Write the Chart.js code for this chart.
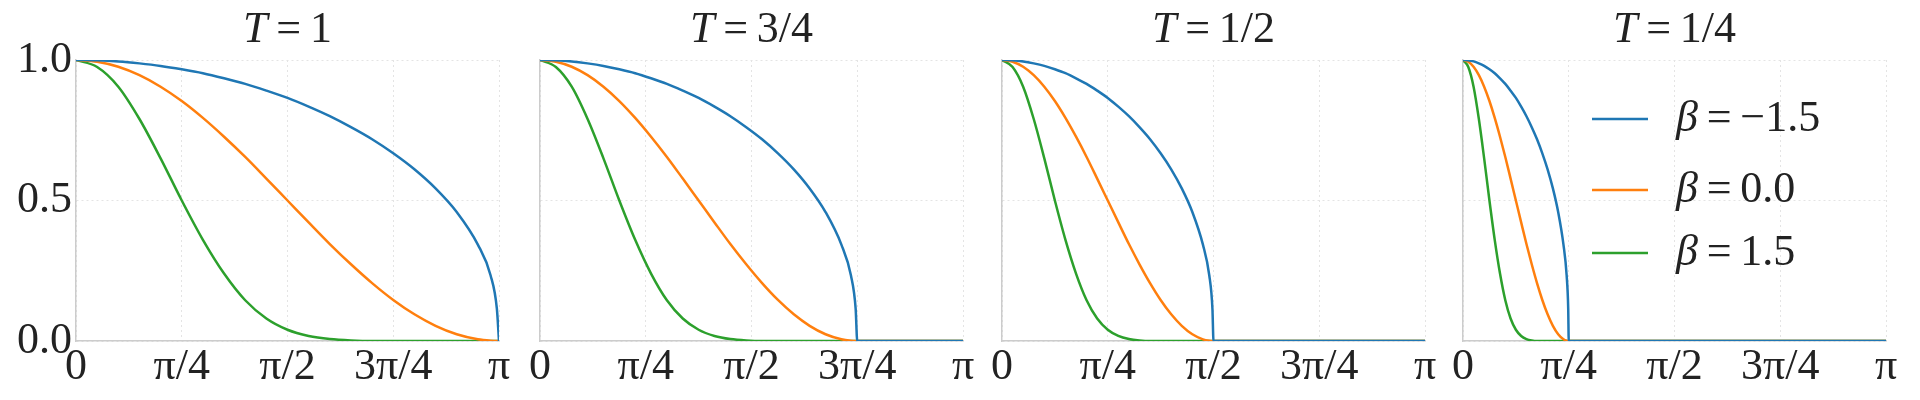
<!DOCTYPE html><html><head><meta charset="utf-8">
<script src="https://cdn.jsdelivr.net/npm/chart.js@4"></script>
<style>body{margin:0;width:1920px;height:400px;background:#fff;position:relative;overflow:hidden}canvas{position:absolute;top:0}</style>
</head><body>
<script>
const temperatures = [1, 0.75, 0.5, 0.25];
const titles = ["T = 1", "T = 3/4", "T = 1/2", "T = 1/4"];
const betaLabels = ["β = −1.5", "β = 0.0", "β = 1.5"];
const colors = ["#1f77b4", "#ff7f0e", "#2ca02c"];
// fraction of support (x / (T·π))
const uGrid = [0,0.05,0.1,0.15,0.2,0.25,0.3,0.35,0.4,0.45,0.5,0.55,0.6,0.65,0.7,0.75,0.8,0.85,0.9,0.95,0.98,0.995,1];
const blueVals = [1,0.999,0.995,0.988,0.979,0.967,0.953,0.935,0.915,0.891,0.865,0.834,0.800,0.761,0.718,0.668,0.611,0.543,0.459,0.343,0.234,0.114,0];
const orangeVals = [1,0.994,0.976,0.946,0.905,0.854,0.794,0.727,0.655,0.578,0.5,0.422,0.345,0.273,0.206,0.146,0.095,0.054,0.024,0.006,0.001,0,0];
const greenVals = [1,0.975,0.905,0.79,0.65,0.50,0.36,0.24,0.145,0.08,0.04,0.018,0.007,0.002,0,0,0,0,0,0,0,0,0];
const seriesVals = [blueVals, orangeVals, greenVals];
const xTickLabels = ["0","π/4","π/2","3π/4","π"];
const yTicks = [0, 0.5, 1];

const plotLefts = [76, 540, 1002, 1463];
const plotW = 423, leftPad = 76, rightPad = 30;
const FONT = "'Liberation Serif', 'DejaVu Serif', serif";
const FS = 44;

temperatures.forEach((T, p) => {
  const c = document.createElement('canvas');
  c.style.left = (plotLefts[p] - leftPad) + 'px';
  c.style.width = (plotW + leftPad + rightPad) + 'px';
  c.style.height = '400px';
  document.body.appendChild(c);
  const datasets = seriesVals.map((vals, i) => {
    const pts = uGrid.map((u, k) => ({x: u * T * Math.PI, y: vals[k]}));
    if (T < 1) pts.push({x: Math.PI, y: 0});
    return {label: betaLabels[i], data: pts, borderColor: colors[i], borderWidth: 2.5, pointRadius: 0, cubicInterpolationMode: 'monotone', fill: false};
  });
  const overlay = {
    id: 'ov',
    afterDraw(ch) {
      const ctx = ch.ctx, a = ch.chartArea;
      ctx.save();
      ctx.fillStyle = '#222'; ctx.textBaseline = 'middle'; ctx.textAlign = 'left';
      const parts = titles[p].split(' = ');
      const cx = (a.left + a.right) / 2;
      ctx.font = `italic ${FS}px ${FONT}`;
      const w1 = ctx.measureText(parts[0]).width;
      ctx.font = `${FS}px ${FONT}`;
      const rest = '\u2009=\u2009' + parts[1];
      const w2 = ctx.measureText(rest).width;
      const sx = cx - (w1 + w2) / 2;
      ctx.font = `italic ${FS}px ${FONT}`; ctx.fillText(parts[0], sx, 30);
      ctx.font = `${FS}px ${FONT}`; ctx.fillText(rest, sx + w1, 30);
      if (p === 3) {
        const ys = [119, 190, 253];
        betaLabels.forEach((lab, i) => {
          const x0 = a.left + 129;
          ctx.strokeStyle = colors[i]; ctx.lineWidth = 2.5;
          ctx.beginPath(); ctx.moveTo(x0, ys[i]); ctx.lineTo(x0 + 56, ys[i]); ctx.stroke();
          ctx.fillStyle = '#222'; ctx.font = `italic ${FS}px ${FONT}`;
          ctx.fillText('β', x0 + 84, ys[i]);
          const bw = ctx.measureText('β').width;
          ctx.font = `${FS}px ${FONT}`;
          ctx.fillText(lab.slice(1).replace(/ = /, '\u2009=\u2009'), x0 + 84 + bw, ys[i]);
        });
      }
      ctx.restore();
    }
  };
  new Chart(c, {
    type: 'line',
    data: {datasets},
    plugins: [overlay],
    options: {
      responsive: false, animation: false, devicePixelRatio: 1,
      layout: {padding: {top: 60, right: rightPad, left: 0, bottom: 0}},
      plugins: {legend: {display: false}, tooltip: {enabled: false}},
      scales: {
        x: {type: 'linear', min: 0, max: Math.PI,
          afterBuildTicks: s => { s.ticks = xTickLabels.map((_, i) => ({value: i * Math.PI / 4})); },
          afterFit: s => { s.height = 59; },
          ticks: {callback: (v, i) => xTickLabels[i], color: '#222', font: {family: FONT, size: FS}, maxRotation: 0, padding: 0},
          grid: {color: '#e4e4e4', drawTicks: false, lineWidth: 1},
          border: {color: '#cccccc', width: 1.5, dash: [2, 3]}},
        y: {min: 0, max: 1,
          afterBuildTicks: s => { s.ticks = yTicks.map(v => ({value: v})); },
          afterFit: s => { s.width = leftPad; },
          ticks: {display: p === 0, callback: v => v.toFixed(1), color: '#222', font: {family: FONT, size: FS}, padding: 4},
          grid: {color: '#e4e4e4', drawTicks: false, lineWidth: 1},
          border: {color: '#cccccc', width: 1.5, dash: [2, 3]}}
      }
    }
  });
});
</script></body></html>
